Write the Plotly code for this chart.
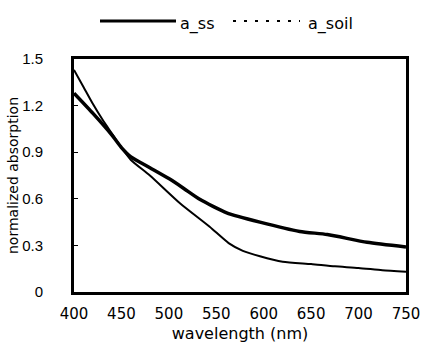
import plotly.graph_objects as go

wl_ss = [400, 420, 440, 450, 460, 480, 500, 515, 533, 561, 596, 638, 667, 709, 750]
a_ss = [1.28, 1.15, 1.01, 0.93, 0.87, 0.80, 0.73, 0.67, 0.595, 0.51, 0.45, 0.39, 0.37, 0.32, 0.29]

wl_soil = [400, 410, 420, 430, 440, 450, 460, 480, 512, 543, 563, 578, 596, 620, 650, 675, 700, 725, 750]
a_soil = [1.43, 1.32, 1.21, 1.11, 1.02, 0.93, 0.85, 0.75, 0.57, 0.42, 0.315, 0.265, 0.23, 0.195, 0.18, 0.165, 0.155, 0.14, 0.13]

x_ticks = [400, 450, 500, 550, 600, 650, 700, 750]
y_ticks = [0, 0.3, 0.6, 0.9, 1.2, 1.5]
y_tick_text = ["0", "0.3", "0.6", "0.9", "1.2", "1.5"]
series_names = ["a_ss", "a_soil"]

FONT = "DejaVu Sans, sans-serif"
FONT_NARROW = "Liberation Sans, Arial, sans-serif"

fig = go.Figure()
fig.add_trace(go.Scatter(x=wl_ss, y=a_ss, mode="lines", name=series_names[0],
                         line=dict(color="black", width=3.5, shape="spline", smoothing=0.6), showlegend=False))
fig.add_trace(go.Scatter(x=wl_soil, y=a_soil, mode="lines", name=series_names[1],
                         line=dict(color="black", width=2, shape="spline", smoothing=0.6), showlegend=False))

W, H = 422, 353
L, T, R, B = 74, 59, 16, 61
PW, PH = W - L - R, H - T - B


def px_x(p):  # pixel -> paper x
    return (p - L) / PW


def px_y(p):  # pixel -> paper y
    return (H - B - p) / PH


# custom legend (samples + labels) above the plot area
fig.add_shape(type="line", xref="paper", yref="paper", x0=px_x(100), x1=px_x(176), y0=px_y(21), y1=px_y(21),
              line=dict(color="black", width=3))
fig.add_shape(type="line", xref="paper", yref="paper", x0=px_x(233), x1=px_x(300), y0=px_y(21), y1=px_y(21),
              line=dict(color="black", width=2, dash="3px,8px"))
fig.add_annotation(xref="paper", yref="paper", x=px_x(178), y=px_y(24), text=series_names[0], showarrow=False,
                   xanchor="left", yanchor="middle", font=dict(size=16))
fig.add_annotation(xref="paper", yref="paper", x=px_x(306), y=px_y(24), text=series_names[1], showarrow=False,
                   xanchor="left", yanchor="middle", font=dict(size=16))

fig.update_layout(
    width=W, height=H,
    margin=dict(l=L, r=R, t=T, b=B, autoexpand=False),
    paper_bgcolor="white", plot_bgcolor="white",
    font=dict(family=FONT, color="black", size=14),
    showlegend=False,
    xaxis=dict(range=[400, 750], tickvals=x_ticks, ticks="", showgrid=False, zeroline=False,
               showline=True, linecolor="black", linewidth=3, mirror=True, automargin=False,
               tickfont=dict(size=15), ticklabelstandoff=6,
               title=dict(text="wavelength (nm)", font=dict(size=16), standoff=6)),
    yaxis=dict(range=[0, 1.5], tickvals=y_ticks, ticktext=y_tick_text, ticks="inside", ticklen=4,
               tickwidth=1, tickcolor="black", showgrid=False, zeroline=False,
               showline=True, linecolor="black", linewidth=3, mirror=True, automargin=False,
               ticklabelstandoff=25, tickfont=dict(size=15, family=FONT_NARROW),
               title=dict(text="normalized absorption", font=dict(size=14), standoff=1)),
)

# remove the page's default body margin so the figure sits at the window's top-left corner
fig.write_html("out.html", config={"displayModeBar": False},
               post_script="document.body.style.margin='0';")
